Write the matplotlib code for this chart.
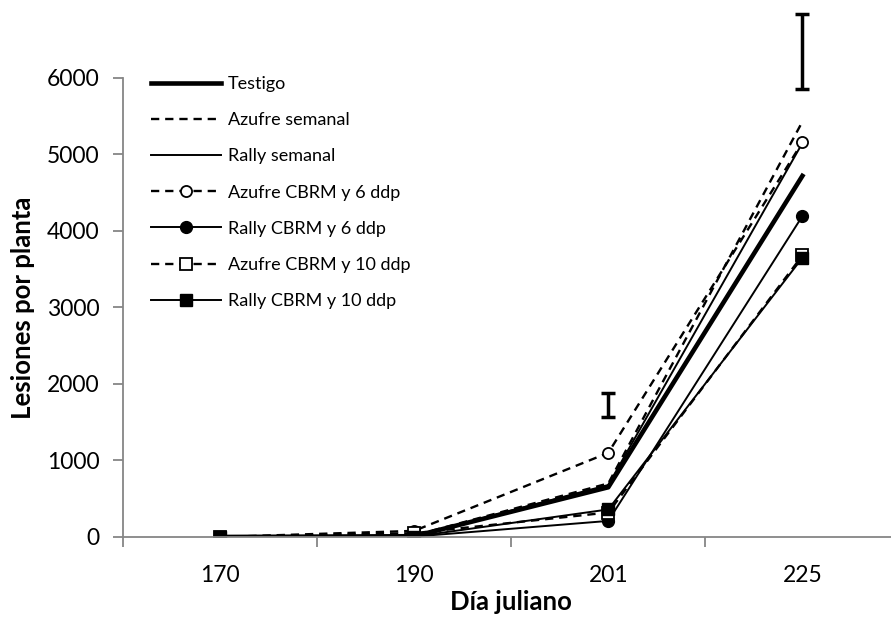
import numpy as np
import matplotlib.pyplot as plt

plt.rcParams['font.family'] = ['Lato', 'DejaVu Sans']

# lesiones por planta por fecha (dia juliano)
dias = ['170', '190', '201', '225']
testigo = [0, 10, 650, 4720]
azufre_semanal = [0, 20, 700, 5430]
rally_semanal = [0, 10, 680, 5150]
azufre_cbrm6 = [0, 80, 1100, 5160]
rally_cbrm6 = [0, 5, 210, 4195]
azufre_cbrm10 = [0, 50, 320, 3680]
rally_cbrm10 = [0, 5, 360, 3650]

# barras de DMS en las dos ultimas fechas
dms_pos = [2, 3]
dms_centro = [1725, 6350]
dms_mitad = [155, 490]

fig = plt.figure(figsize=(8.91, 6.19), dpi=100)
ax = fig.add_axes([0.138, 0.1325, 0.8715, 0.7415])
x = np.arange(len(dias))
dash = (0, (3.5, 2.5))

ax.plot(x, testigo, color='black', lw=3.3, label='Testigo')
ax.plot(x, azufre_semanal, color='black', lw=1.7, ls=dash, label='Azufre semanal')
ax.plot(x, rally_semanal, color='black', lw=1.4, label='Rally semanal')
ax.plot(x, azufre_cbrm6, color='black', lw=1.7, ls=dash, marker='o', ms=8,
        mfc='white', mec='black', mew=1.3, label='Azufre CBRM y 6 ddp')
ax.plot(x, rally_cbrm6, color='black', lw=1.4, marker='o', ms=8.5,
        label='Rally CBRM y 6 ddp')
ax.plot(x, azufre_cbrm10, color='black', lw=1.7, ls=dash, marker='s', ms=8,
        mfc='white', mec='black', mew=1.3, label='Azufre CBRM y 10 ddp')
ax.plot(x, rally_cbrm10, color='black', lw=1.4, marker='s', ms=8,
        label='Rally CBRM y 10 ddp')

ax.errorbar(dms_pos, dms_centro, yerr=dms_mitad, fmt='none', ecolor='black',
            elinewidth=2.5, capsize=5, capthick=2.5, clip_on=False)

ax.set_xlim(-0.5, 3.5)
ax.set_ylim(0, 6000)
ax.set_yticks(np.arange(0, 6001, 1000))
ax.set_xticks(x)
ax.set_xticklabels(dias)
ax.set_xticks(np.arange(-0.5, 3.6, 1), minor=True)
ax.tick_params(axis='x', which='major', length=0, labelsize=16.5, pad=20)
ax.tick_params(axis='x', which='minor', length=7, color='#868686', width=1.3)
ax.tick_params(axis='y', length=7, color='#868686', width=1.3, labelsize=16.5, pad=10)

for s in ['top', 'right']:
    ax.spines[s].set_visible(False)
for s in ['left', 'bottom']:
    ax.spines[s].set_color('#868686')
    ax.spines[s].set_linewidth(1.3)

ax.set_xlabel('Día juliano', fontsize=18.5, fontweight='bold', labelpad=3)
ax.set_ylabel('Lesiones por planta', fontsize=18.5, fontweight='bold', labelpad=8)

ax.legend(loc='upper left', bbox_to_anchor=(0.015, 1.04), frameon=False,
          fontsize=13, handlelength=3.9, handletextpad=0.35, labelspacing=1.12,
          numpoints=1)

fig.savefig('out.png', dpi=100)
